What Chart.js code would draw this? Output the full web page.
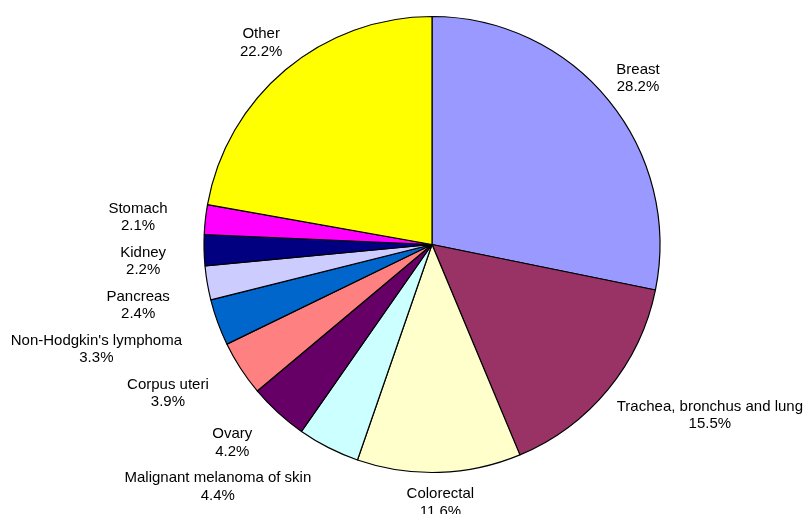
<!DOCTYPE html>
<html>
<head>
<meta charset="utf-8">
<script src="https://cdn.jsdelivr.net/npm/chart.js@4.4.1/dist/chart.umd.min.js"></script>
<style>
  html, body { margin: 0; padding: 0; background: #ffffff; }
  canvas { display: block; }
</style>
</head>
<body>
<canvas id="c" width="805" height="514"></canvas>
<script>
// ---- data ----
const categories = [
  "Breast",
  "Trachea, bronchus and lung",
  "Colorectal",
  "Malignant melanoma of skin",
  "Ovary",
  "Corpus uteri",
  "Non-Hodgkin's lymphoma",
  "Pancreas",
  "Kidney",
  "Stomach",
  "Other"
];
const percentages = [28.2, 15.5, 11.6, 4.4, 4.2, 3.9, 3.3, 2.4, 2.2, 2.1, 22.2];
const sliceColors = [
  "#9999FF", "#993366", "#FFFFCC", "#CCFFFF", "#660066",
  "#FF8080", "#0066CC", "#CCCCFF", "#000080", "#FF00FF", "#FFFF00"
];

// Excel-like "outside end" data labels: anchor beyond the rim; labels in the
// upper part (and straight below) are centred on the anchor, the others are
// aligned away from the pie; kept inside the chart area and spread vertically.
const outsideLabels = {
  id: 'outsideLabels',
  afterDatasetsDraw(chart) {
    const ctx = chart.ctx;
    const meta = chart.getDatasetMeta(0);
    const ds = chart.data.datasets[0];
    const W = chart.width, H = chart.height;
    const lineH = 17.6, minSpacing = 44, extra = 38, yShift = 2;
    ctx.save();
    ctx.font = '15px "Liberation Sans", Arial, sans-serif';
    ctx.fillStyle = '#000000';
    ctx.textAlign = 'center';
    ctx.textBaseline = 'middle';
    const items = meta.data.map((arc, i) => {
      const p = arc.getProps(['x', 'y', 'startAngle', 'endAngle', 'outerRadius'], true);
      const mid = (p.startAngle + p.endAngle) / 2;
      const dx = Math.cos(mid), dy = Math.sin(mid);
      const lines = [chart.data.labels[i], ds.data[i].toFixed(1) + '%'];
      const w = Math.max(...lines.map(t => ctx.measureText(t).width));
      const h = lines.length * lineH;
      const R = p.outerRadius + extra;
      const ax = p.x + dx * R, ay = p.y + dy * R + yShift;
      let cx = ax, cy = ay;
      const centred = dy < -0.3 || Math.abs(dx) < 0.2;
      if (!centred) {
        cx = dx < 0 ? ax - w / 2 : ax + w / 2;
      }
      cx = Math.min(cx, W - 2 - w / 2);
      cx = Math.max(cx, 2 + w / 2);
      cy = Math.min(cy, H + 6.5 - h / 2);
      let ang = mid + Math.PI / 2; // clockwise from top
      ang = ((ang % (2 * Math.PI)) + 2 * Math.PI) % (2 * Math.PI);
      return { lines, cx, cy, ang, left: ang > Math.PI };
    });
    // spread the left-hand labels downward
    const left = items.filter(o => o.left).sort((a, b) => b.ang - a.ang);
    for (let k = 1; k < left.length; k++) {
      left[k].cy = Math.max(left[k].cy, left[k - 1].cy + minSpacing);
    }
    items.forEach(o => {
      o.lines.forEach((t, k) => {
        ctx.fillText(t, o.cx, o.cy + (k - (o.lines.length - 1) / 2) * lineH);
      });
    });
    ctx.restore();
  }
};

new Chart(document.getElementById('c'), {
  type: 'pie',
  data: {
    labels: categories,
    datasets: [{
      data: percentages,
      backgroundColor: sliceColors,
      borderColor: '#000000',
      borderWidth: 1.2
    }]
  },
  options: {
    responsive: false,
    animation: false,
    devicePixelRatio: 1,
    radius: 228,
    layout: { padding: { left: 204, right: 145, top: 16, bottom: 41 } },
    plugins: {
      legend: { display: false },
      tooltip: { enabled: false },
      title: { display: false }
    }
  },
  plugins: [outsideLabels]
});
</script>
</body>
</html>
